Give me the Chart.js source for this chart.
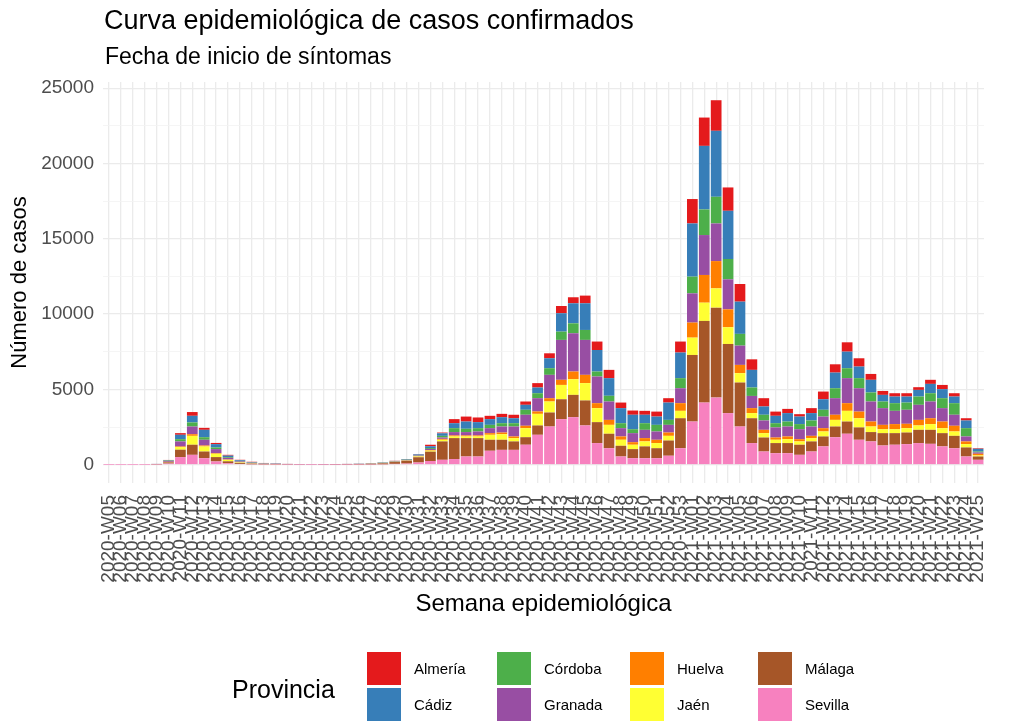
<!DOCTYPE html>
<html><head><meta charset="utf-8">
<script src="https://cdn.jsdelivr.net/npm/chart.js@4.4.1/dist/chart.umd.min.js"></script>
<style>
html,body{margin:0;padding:0;background:#fff;}
#wrap{position:relative;width:1013px;height:725px;overflow:hidden;font-family:"Liberation Sans",Arial,sans-serif;color:#000;}
#c{position:absolute;left:0;top:0;}
.t{position:absolute;white-space:nowrap;line-height:1;}
#title{left:104px;top:7px;font-size:27px;}
#subtitle{left:105px;top:45px;font-size:23px;}
#legtitle{left:232px;top:677px;font-size:25px;}
.key{position:absolute;width:34px;height:33px;}
.lab{position:absolute;font-size:15px;line-height:1;}
</style></head><body>
<div id="wrap">
<canvas id="c" width="1013" height="725"></canvas>
<div class="t" id="title">Curva epidemiológica de casos confirmados</div>
<div class="t" id="subtitle">Fecha de inicio de síntomas</div>
<div class="t" id="legtitle">Provincia</div>
<div id="legend"></div>
</div>
<script>
const weeks = ["2020-W05","2020-W06","2020-W07","2020-W08","2020-W09","2020-W10","2020-W11","2020-W12","2020-W13","2020-W14",
"2020-W15","2020-W16","2020-W17","2020-W18","2020-W19","2020-W20","2020-W21","2020-W22","2020-W23","2020-W24",
"2020-W25","2020-W26","2020-W27","2020-W28","2020-W29","2020-W30","2020-W31","2020-W32","2020-W33","2020-W34",
"2020-W35","2020-W36","2020-W37","2020-W38","2020-W39","2020-W40","2020-W41","2020-W42","2020-W43","2020-W44",
"2020-W45","2020-W46","2020-W47","2020-W48","2020-W49","2020-W50","2020-W51","2020-W52","2020-W53","2021-W01",
"2021-W02","2021-W03","2021-W04","2021-W05","2021-W06","2021-W07","2021-W08","2021-W09","2021-W10","2021-W11",
"2021-W12","2021-W13","2021-W14","2021-W15","2021-W16","2021-W17","2021-W18","2021-W19","2021-W20","2021-W21",
"2021-W22","2021-W23","2021-W24","2021-W25"];

const sevilla = [1,1,1,3,15,80,510,660,440,220, 100,50,30,20,15,10,6,5,6,8, 10,14,20,30,60,80,150,250,330,380,
 550,550,930,990,990,1330,1990,2540,3030,3160, 2610,1440,1100,550,440,440,440,600,1100,2870,
 4130,4460,3430,2540,1440,880,770,770,660,880, 1220,1830,2060,1660,1550,1280,1330,1370,1440,1390, 1220,1100,550,330];
const malaga = [1,1,1,3,15,80,490,670,440,290, 130,60,40,25,20,12,10,8,12,16, 20,28,40,60,120,180,350,620,1220,1390,
 1220,1220,730,670,560,500,620,930,1320,1480, 1660,1390,960,710,600,780,660,1010,1990,4420,
 5420,5970,4590,2920,1650,930,670,670,670,670, 660,710,810,820,620,820,770,770,880,930, 880,820,600,220];
const jaen = [0,0,1,1,5,20,170,590,335,220, 100,40,20,10,10,5,3,2,2,3, 3,4,5,7,10,15,50,70,110,110,
 110,110,330,370,220,600,770,730,950,1040, 1150,930,590,400,290,330,340,310,490,1150,
 1210,1280,1110,620,340,290,220,260,220,220, 330,440,710,610,370,260,260,290,290,380, 330,290,220,70];
const huelva = [0,0,0,0,2,10,45,110,65,40, 20,10,5,5,5,3,2,2,2,2, 3,3,4,5,8,10,20,40,60,70,
 70,70,110,110,110,160,160,220,340,510, 550,330,330,220,170,220,220,220,510,1000,
 1840,1810,1190,550,330,220,150,180,150,150, 220,340,510,440,330,290,340,290,370,390, 440,380,180,110];
const granada = [0,1,1,2,10,50,335,510,380,270, 110,60,40,20,15,10,6,4,5,6, 7,9,12,16,20,25,40,70,90,220,
 220,260,330,400,660,730,880,1550,2650,2540, 2320,1770,1220,550,600,550,550,510,990,1940,
 2650,2500,1990,1280,810,620,670,660,660,620, 770,1100,1660,1550,1330,1110,880,930,1000,1110, 890,730,330,90];
const cordoba = [0,0,1,1,5,30,150,270,170,110, 50,30,20,10,10,5,3,2,3,4, 5,6,8,12,15,20,30,60,110,260,
 220,220,220,220,220,330,330,440,550,660, 660,330,380,330,260,440,440,330,670,1110,
 1700,1770,1350,780,560,380,280,330,340,400, 450,660,660,670,600,440,510,480,550,550, 660,770,550,60];
const cadiz = [0,0,1,2,5,30,290,440,490,220, 100,50,30,20,15,10,6,4,6,7, 8,10,14,20,22,35,50,120,170,330,
 480,400,380,400,330,330,380,660,1220,1330, 1770,1430,1170,1000,960,560,550,1150,1700,3530,
 4220,4380,3200,2140,1170,550,490,560,500,490, 700,1040,1100,770,840,440,440,400,440,620, 600,440,510,180];
const almeria = [0,0,0,1,3,20,110,250,130,80, 50,30,15,10,10,5,4,3,4,4, 4,6,7,10,10,15,20,100,50,270,
 330,310,220,220,230,220,290,330,480,400, 510,560,550,370,280,260,330,290,730,1620,
 1880,2030,1550,1170,700,550,280,280,160,330, 510,550,620,550,390,260,220,220,180,270, 280,220,150,40];

const provinces = ["Almería","Cádiz","Córdoba","Granada","Huelva","Jaén","Málaga","Sevilla"];
const colors = ["#E41A1C","#377EB8","#4DAF4A","#984EA3","#FF7F00","#FFFF33","#A65628","#F781BF"];
const seriesByProvince = [almeria,cadiz,cordoba,granada,huelva,jaen,malaga,sevilla];
const yMajorTicks = [0,5000,10000,15000,20000,25000];
const yMinorTicks = [2500,7500,12500,17500,22500];

const datasets = provinces.map((p,i)=>({
  label:p, data:seriesByProvince[i], backgroundColor:colors[i], borderWidth:0,
  barPercentage:0.9, categoryPercentage:1.0
})).reverse();

const totals = weeks.map((_,k)=>seriesByProvince.reduce((s,a)=>s+a[k],0));
const maxTotal = Math.max(...totals);
const FONT = '"Liberation Sans", Arial, sans-serif';

new Chart(document.getElementById('c'), {
  type:'bar',
  data:{labels:weeks, datasets},
  options:{
    responsive:false, animation:false, devicePixelRatio:1,
    layout:{padding:{top:82,right:16,bottom:0,left:0}},
    plugins:{legend:{display:false}, tooltip:{enabled:false}, title:{display:false}},
    scales:{
      x:{
        stacked:true,
        border:{display:false},
        grid:{offset:false, color:'#EBEBEB', lineWidth:1.3, drawTicks:false},
        ticks:{autoSkip:false, minRotation:90, maxRotation:90, padding:12, color:'#4D4D4D',
               font:{family:FONT, size:19}},
        title:{display:true, text:'Semana epidemiológica', color:'#000',
               font:{family:FONT, size:24}, padding:{top:0,bottom:106}},
        afterFit:(s)=>{s.height=242;}
      },
      y:{
        stacked:true,
        min:-0.05*maxTotal, max:1.05*maxTotal,
        border:{display:false},
        afterBuildTicks:(s)=>{s.ticks=[...yMajorTicks,...yMinorTicks].sort((a,b)=>a-b).map(v=>({value:v}));},
        grid:{drawTicks:false,
              color:(ctx)=>yMajorTicks.includes(ctx.tick&&ctx.tick.value)?'#EBEBEB':'#F2F2F2',
              lineWidth:(ctx)=>yMajorTicks.includes(ctx.tick&&ctx.tick.value)?1.3:0.8},
        ticks:{autoSkip:false, padding:9, color:'#4D4D4D',
               font:{family:FONT, size:19},
               callback:(v)=>yMajorTicks.includes(v)?String(v):''},
        title:{display:true, text:'Número de casos', color:'#000',
               font:{family:FONT, size:22}, padding:{top:7,bottom:0}},
        afterFit:(s)=>{s.width=103;}
      }
    }
  }
});

const legend = document.getElementById('legend');
const colX = [367,497,630,758];
const rowY = [652,688];
provinces.forEach((p,i)=>{
  const col = Math.floor(i/2), row = i%2;
  const k = document.createElement('div');
  k.className='key'; k.style.left=colX[col]+'px'; k.style.top=rowY[row]+'px'; k.style.background=colors[i];
  legend.appendChild(k);
  const l = document.createElement('div');
  l.className='lab'; l.textContent=p; l.style.left=(colX[col]+47)+'px'; l.style.top=(rowY[row]+9)+'px';
  legend.appendChild(l);
});
</script>
</body></html>
